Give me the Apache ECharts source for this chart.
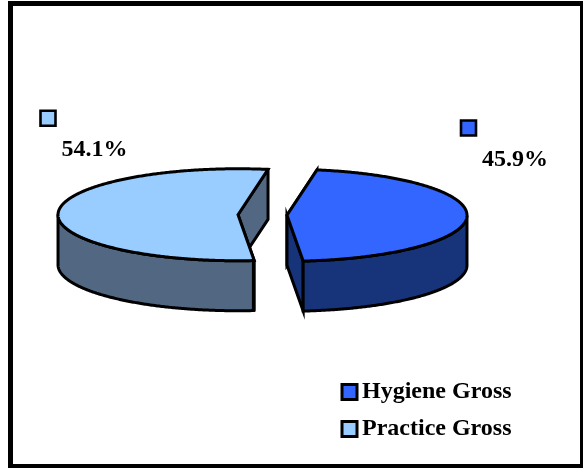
<!DOCTYPE html>
<html><head><meta charset="utf-8">
<style>html,body{margin:0;padding:0;background:#fff}#c{width:583px;height:468px}</style>
<script src="https://cdn.jsdelivr.net/npm/echarts@6/dist/echarts.min.js"></script>
</head><body><div id="c"></div>
<script>
const categories = ['Hygiene Gross', 'Practice Gross'];
const percentValues = [45.9, 54.1];
const valueLabels = ['45.9%', '54.1%'];
const topColors = ['#3366FF', '#99CCFF'];
const wallColors = ['#17337A', '#526882'];

const SERIF = '"Liberation Serif","Times New Roman",serif';
const BASE = {x: 262.5, y: 215, rx: 180, ry: 46, depth: 50, explode: 24.5, startDeg: 80.4, lw: 3};
const WALL_JOIN = ['miter', 'round'];
const LABEL_POS = [
  {key: [468.5, 128], text: [515, 160]},
  {key: [48, 118.3], text: [94.5, 150]}
];
const total = percentValues.reduce((a, b) => a + b, 0);

function sliceRange(i) {
  let before = 0;
  for (let k = 0; k < i; k++) before += percentValues[k];
  const a0 = BASE.startDeg - before / total * 360;
  return [a0, a0 - percentValues[i] / total * 360];
}

function makeRender(i) {
  return function (params, api) {
    const value = api.value(0);
    const [a0] = sliceRange(i);
    const a1 = a0 - value / total * 360;
    const mid = (a0 + a1) / 2 * Math.PI / 180;
    const cx = BASE.x + BASE.explode * Math.cos(mid);
    const cy = BASE.y - BASE.explode * BASE.ry / BASE.rx * Math.sin(mid);
    const pt = d => {
      const t = d * Math.PI / 180;
      return [cx + BASE.rx * Math.cos(t), cy - BASE.ry * Math.sin(t)];
    };
    const down = p => [p[0], p[1] + BASE.depth];
    const line = {stroke: '#000', lineWidth: BASE.lw, lineJoin: 'miter', miterLimit: 6};
    const wallLine = Object.assign({}, line, {lineJoin: WALL_JOIN[i]});
    const apex = [cx, cy];
    const children = [];

    [a0, a1].sort((p, q) => Math.sin(q * Math.PI / 180) - Math.sin(p * Math.PI / 180)).forEach(d => {
      const p = pt(d);
      children.push({type: 'polygon', shape: {points: [apex, p, down(p), down(apex)]},
        style: Object.assign({fill: wallColors[i]}, wallLine)});
    });

    const rim = [];
    for (let d = a1; d <= a0 + 1e-6; d += 0.5) {
      if (Math.sin(d * Math.PI / 180) <= 0.001) rim.push(pt(d));
    }
    if (rim.length > 1) {
      children.push({type: 'polygon',
        shape: {points: rim.concat(rim.slice().reverse().map(down))},
        style: Object.assign({fill: wallColors[i]}, wallLine)});
    }

    const top = [apex];
    for (let d = a1; d < a0; d += 0.5) top.push(pt(d));
    top.push(pt(a0));
    children.push({type: 'polygon', shape: {points: top},
      style: Object.assign({fill: topColors[i]}, line)});

    const lp = LABEL_POS[i];
    children.push({type: 'rect',
      shape: {x: lp.key[0] - 7.5, y: lp.key[1] - 7.5, width: 15, height: 15},
      style: {fill: topColors[i], stroke: '#000', lineWidth: 2.6}});
    children.push({type: 'text', x: lp.text[0], y: lp.text[1],
      style: {text: valueLabels[i], fill: '#000', align: 'center', verticalAlign: 'middle',
        font: 'bold 24px ' + SERIF}});
    return {type: 'group', children};
  };
}

const chart = echarts.init(document.getElementById('c'), null, {renderer: 'canvas'});
chart.setOption({
  animation: false,
  backgroundColor: '#fff',
  graphic: [{type: 'rect', silent: true, z: 0,
    shape: {x: 10.5, y: 3.5, width: 572, height: 463},
    style: {fill: 'none', stroke: '#000', lineWidth: 5}}],
  legend: {
    orient: 'vertical', left: 335.5, top: 375, icon: 'rect',
    itemWidth: 15, itemHeight: 15, itemGap: 13, selectedMode: false,
    data: categories.map((c, i) => ({name: c,
      itemStyle: {color: topColors[i], borderColor: '#000', borderWidth: 3}})),
    textStyle: {fontFamily: SERIF, fontWeight: 'bold', fontSize: 24, color: '#000', padding: [0, 0, 0, 0]}
  },
  series: categories.map((c, i) => ({
    type: 'custom', name: c, coordinateSystem: 'none', silent: true,
    itemStyle: {color: topColors[i]},
    data: [[percentValues[i]]],
    renderItem: makeRender(i)
  }))
});
</script></body></html>
